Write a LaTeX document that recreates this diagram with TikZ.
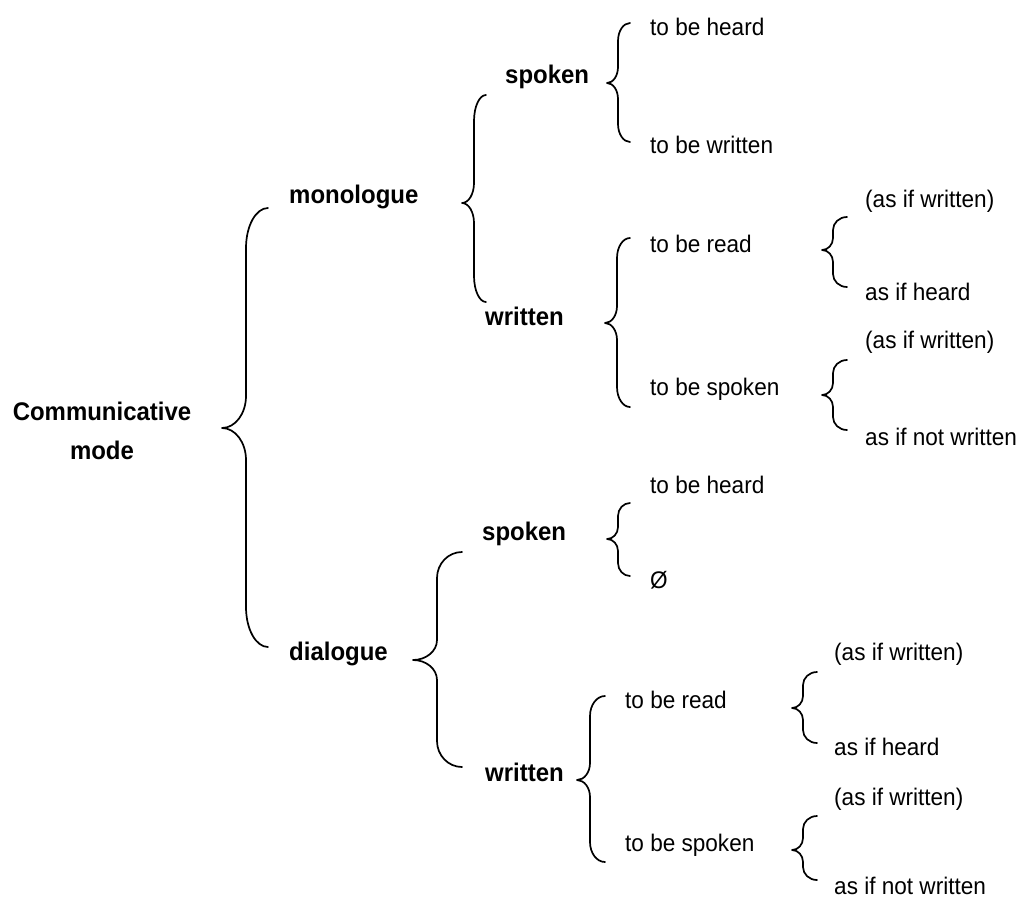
\documentclass[tikz,border=0pt]{standalone}
\usepackage{fontspec}
\setmainfont{Liberation Sans}[FakeStretch=0.94]

% curly brace opening to the right:
% #1 tip x, #2 tip y, #3 stem x, #4 end x, #5 top y, #6 bottom y, #7 end radius, #8 tip radius
\newcommand\cbrace[8]{%
  \draw[brc] (#4,#5)
    .. controls ({#4-0.552*(#4-#3)},#5) and (#3,{#5+0.448*#7}) .. (#3,{#5+#7})
    -- (#3,{#2-#8})
    .. controls (#3,{#2-0.448*#8}) and ({#1+0.552*(#3-#1)},#2) .. (#1,#2)
    .. controls ({#1+0.552*(#3-#1)},#2) and (#3,{#2+0.448*#8}) .. (#3,{#2+#8})
    -- (#3,{#6-#7})
    .. controls (#3,{#6-0.448*#7}) and ({#4-0.552*(#4-#3)},#6) .. (#4,#6);}

\begin{document}
\begin{tikzpicture}[x=1pt,y=-1pt,
  lbl/.style={anchor=base west, inner sep=0pt, font=\fontsize{24}{28}\selectfont},
  head/.style={anchor=base west, inner sep=0pt, font=\fontsize{25.5}{30}\selectfont\bfseries},
  rootlbl/.style={anchor=base, inner sep=0pt, font=\fontsize{25.5}{30}\selectfont\bfseries},
  brc/.style={line width=1.7pt, line cap=round, line join=round}]
\useasboundingbox (0,0) rectangle (1028,903);

% root
\node[rootlbl] (root) at (102,420) {Communicative};
\node[rootlbl] (rootb) at (102,459) {mode};
\cbrace{222}{428}{246}{268}{208}{647}{40}{32}

% ---- monologue branch
\node[head] (mono) at (289,203) {monologue};
\cbrace{462}{203}{474}{486}{95}{302}{26}{20}

\node[head] (mspk) at (505,83) {spoken};
\cbrace{607}{83}{618}{630}{23}{142}{18}{16}
\node[lbl] (mspk1) at (650,35) {to be heard};
\node[lbl] (mspk2) at (650,153) {to be written};

\node[head] (mwrt) at (485,325) {written};
\cbrace{605}{323}{617}{630}{238}{407}{20}{17}
\node[lbl] (mread) at (650,252) {to be read};
\node[lbl] (mspoken) at (650,395) {to be spoken};

\cbrace{822}{250}{833}{847}{217}{287}{13}{12}
\node[lbl] (mread1) at (865,207) {(as if written)};
\node[lbl] (mread2) at (865,300) {as if heard};

\cbrace{822}{395}{833}{847}{360}{430}{13}{12}
\node[lbl] (msp1) at (865,348) {(as if written)};
\node[lbl] (msp2) at (865,445) {as if not written};

% ---- dialogue branch
\node[head] (dia) at (289,660) {dialogue};
\cbrace{413}{660}{437}{462}{552}{767}{26}{20}

\node[head] (dspk) at (482,540) {spoken};
\cbrace{607}{539}{618}{630}{503}{576}{13}{12}
\node[lbl] (dspk1) at (650,493) {to be heard};
\node[lbl] (dspk2) at (650,588) {Ø};

\node[head] (dwrt) at (485,781) {written};
\cbrace{577}{780}{590}{605}{696}{862}{20}{17}
\node[lbl] (dread) at (625,708) {to be read};
\node[lbl] (dspoken) at (625,851) {to be spoken};

\cbrace{792}{708}{803}{817}{672}{743}{13}{12}
\node[lbl] (dread1) at (834,660) {(as if written)};
\node[lbl] (dread2) at (834,755) {as if heard};

\cbrace{792}{850}{803}{817}{816}{880}{13}{12}
\node[lbl] (dsp1) at (834,805) {(as if written)};
\node[lbl] (dsp2) at (834,894) {as if not written};
\end{tikzpicture}
\end{document}
